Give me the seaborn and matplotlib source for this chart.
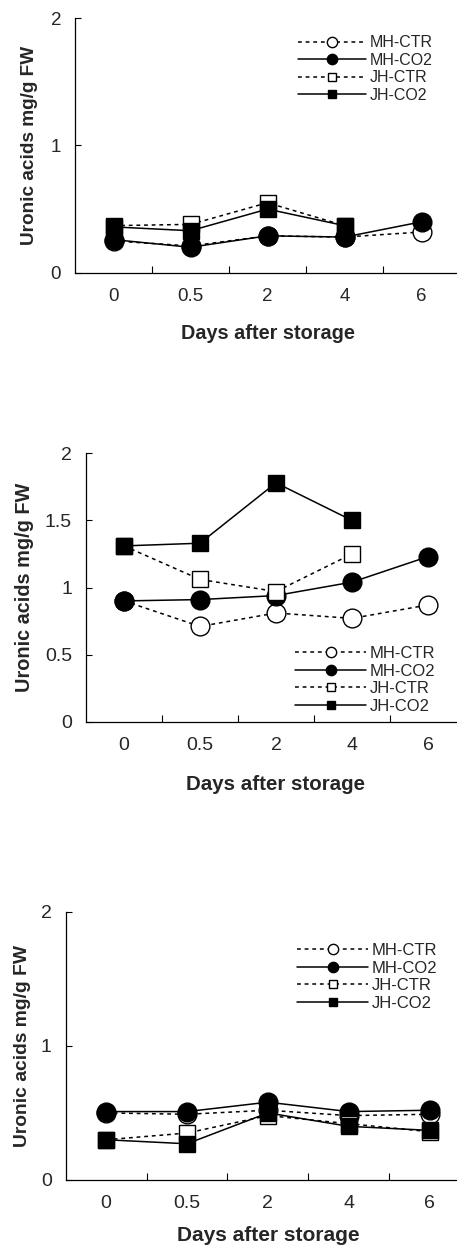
import numpy as np
import pandas as pd
import seaborn as sns
import matplotlib.pyplot as plt
from matplotlib.ticker import FixedLocator

# 기본 스타일 (set_style 다음에 폰트 지정)
sns.set_style("white")
plt.rcParams['font.family'] = ['Liberation Sans', 'DejaVu Sans']

# x 축 범주 (저장 후 일수)
days = ["0", "0.5", "2", "4", "6"]
series_names = ["MH-CTR", "MH-CO2", "JH-CTR", "JH-CO2"]

# 1번 그래프 (위)
mh_ctr_1 = [0.25, 0.21, 0.29, 0.28, 0.32]
mh_co2_1 = [0.26, 0.20, 0.29, 0.28, 0.40]
jh_ctr_1 = [0.37, 0.38, 0.55, 0.37, np.nan]
jh_co2_1 = [0.36, 0.33, 0.50, 0.37, np.nan]

# 2번 그래프 (가운데)
mh_ctr_2 = [0.90, 0.71, 0.81, 0.77, 0.87]
mh_co2_2 = [0.90, 0.91, 0.94, 1.04, 1.23]
jh_ctr_2 = [1.31, 1.06, 0.97, 1.25, np.nan]
jh_co2_2 = [1.31, 1.33, 1.78, 1.50, np.nan]

# 3번 그래프 (아래)
mh_ctr_3 = [0.50, 0.49, 0.52, 0.48, 0.49]
mh_co2_3 = [0.51, 0.51, 0.58, 0.51, 0.52]
jh_ctr_3 = [0.30, 0.35, 0.48, 0.42, 0.36]
jh_co2_3 = [0.30, 0.27, 0.50, 0.40, 0.37]

yticks_1 = [0, 1, 2]
yticks_2 = [0, 0.5, 1, 1.5, 2]
yticks_3 = [0, 1, 2]

# 선 모양: 마커, 채움색, 선 스타일, 마커 크기
dot = (0, (2.5, 2.5))
styles = [
    ("o", "white", dot, 13.5),
    ("o", "black", "-", 13.5),
    ("s", "white", dot, 11.5),
    ("s", "black", "-", 11.5),
]

W, H = 457, 1260
fig = plt.figure(figsize=(W / 100, H / 100), dpi=100)


def px_axes(left, top, bottom, right):
    return fig.add_axes([left / W, 1 - bottom / H, (right - left) / W, (bottom - top) / H])


def draw_panel(ax, data, yticks, legend_xy, sizes):
    tick_fs, ylab_fs, xlab_fs, leg_fs = sizes
    for name, vals, (mk, fc, ls, ms) in zip(series_names, data, styles):
        df = pd.DataFrame({"pos": np.arange(len(days)), "value": vals})
        sns.lineplot(data=df, x="pos", y="value", ax=ax, color="black",
                     marker=mk, markersize=ms, markerfacecolor=fc,
                     markeredgecolor="black", markeredgewidth=1.0,
                     linewidth=1.1, linestyle=ls, label=name, errorbar=None)

    ax.set_xlim(-0.5, len(days) - 0.5)
    ax.set_ylim(0, 2)
    ax.set_xticks(np.arange(len(days)))
    ax.set_xticklabels(days)
    ax.xaxis.set_minor_locator(FixedLocator(np.arange(len(days)) + 0.5))
    ax.set_yticks(yticks)
    ax.set_yticklabels([f"{t:g}" for t in yticks])

    ax.tick_params(axis="x", which="major", bottom=True, length=0, pad=11, labelsize=tick_fs)
    ax.tick_params(axis="x", which="minor", bottom=True, direction="in", length=5, width=0.8, color="black")
    ax.tick_params(axis="y", left=True, direction="in", length=4.5, width=0.8, pad=10,
                   labelsize=tick_fs, color="black")

    for side in ["top", "right"]:
        ax.spines[side].set_visible(False)
    for side in ["left", "bottom"]:
        ax.spines[side].set_color("black")
        ax.spines[side].set_linewidth(0.9)

    ax.set_xlabel("Days after storage", fontsize=xlab_fs, fontweight="bold")
    ax.set_ylabel("Uronic acids mg/g FW", fontsize=ylab_fs, fontweight="bold")

    ax.legend(loc="center", bbox_to_anchor=(legend_xy[0] / W, 1 - legend_xy[1] / H),
              bbox_transform=fig.transFigure, frameon=False, fontsize=leg_fs,
              handlelength=4.3, handletextpad=0.2, labelspacing=0.15,
              markerscale=0.55, borderpad=0)


ax1 = px_axes(75, 18.3, 272.7, 460)
draw_panel(ax1, [mh_ctr_1, mh_co2_1, jh_ctr_1, jh_co2_1], yticks_1,
           (365, 69), (13.5, 13.7, 14.3, 11.5))
ax1.yaxis.set_label_coords(-0.095, 0.5)
ax1.xaxis.set_label_coords(0.5, -0.2)

ax2 = px_axes(86, 453.3, 721.7, 466)
draw_panel(ax2, [mh_ctr_2, mh_co2_2, jh_ctr_2, jh_co2_2], yticks_2,
           (365, 680), (14, 14.3, 14.8, 12))
ax2.yaxis.set_label_coords(-0.137, 0.5)
ax2.xaxis.set_label_coords(0.5, -0.2)

ax3 = px_axes(65.7, 911.7, 1180, 470)
draw_panel(ax3, [mh_ctr_3, mh_co2_3, jh_ctr_3, jh_co2_3], yticks_3,
           (367, 977), (14, 13.9, 15, 12))
ax3.yaxis.set_label_coords(-0.087, 0.5)
ax3.xaxis.set_label_coords(0.5, -0.17)

fig.savefig("out.png", dpi=100)
